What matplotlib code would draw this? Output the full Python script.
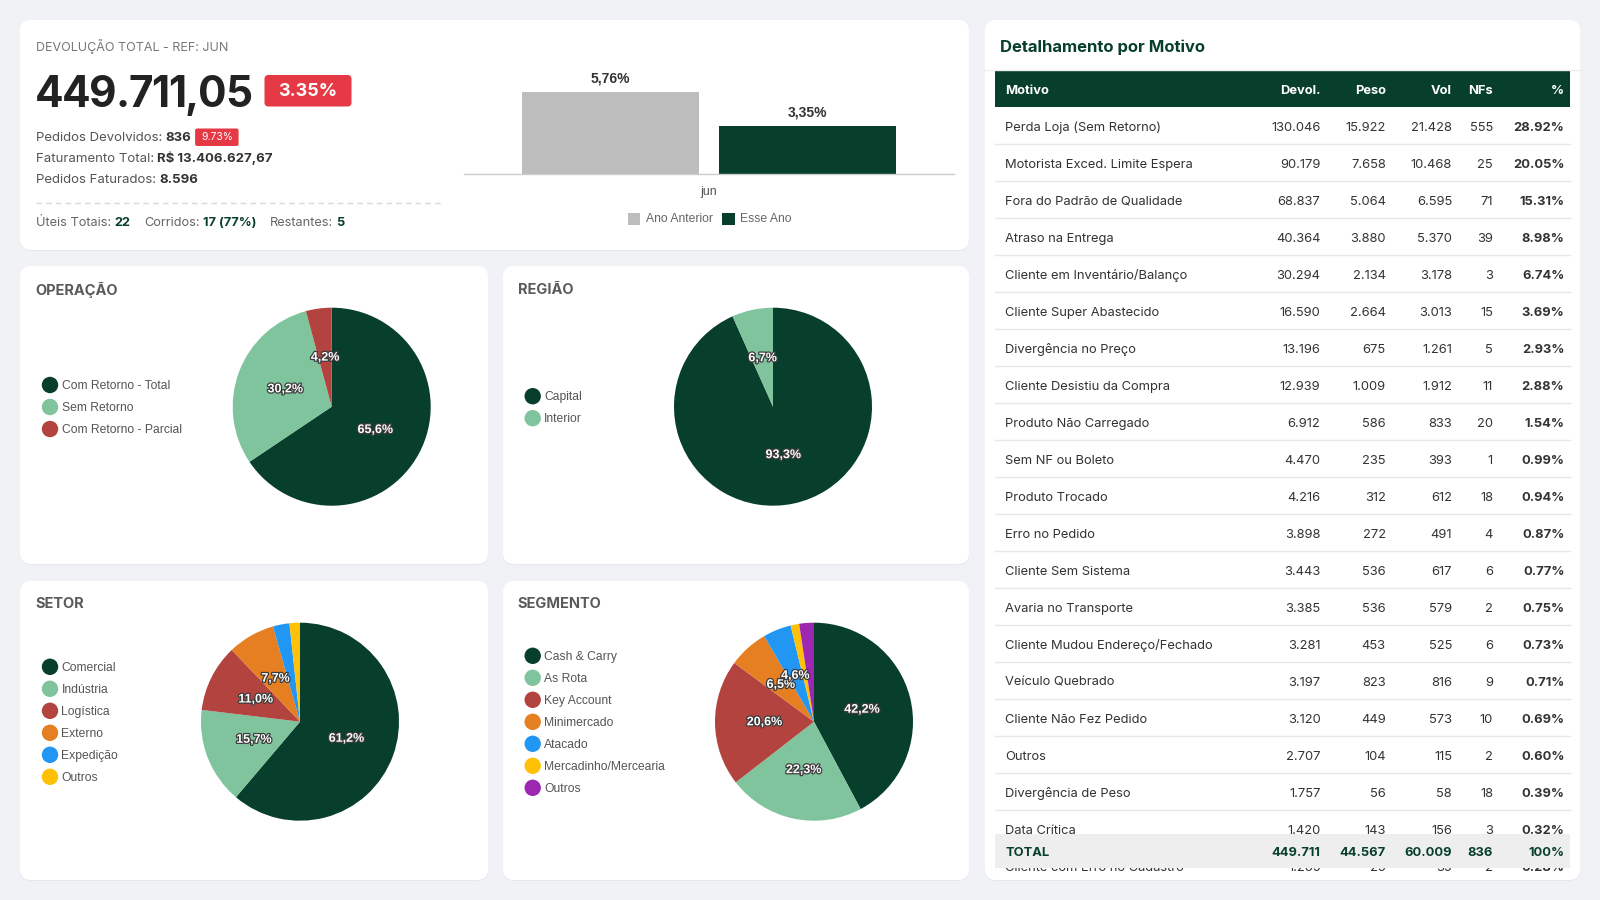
import numpy as np
import matplotlib
matplotlib.use('Agg')
import matplotlib.pyplot as plt
from matplotlib.patches import FancyBboxPatch, Rectangle, Circle
import matplotlib.patheffects as pe
from matplotlib.transforms import Bbox, TransformedBbox

# ------------------------------------------------------------------ data
ref_month = 'jun'
kpi_title = 'DEVOLUÇÃO TOTAL - REF: JUN'
total_devolucao = '449.711,05'
pct_devolucao = '3.35%'
pedidos_devolvidos = '836'
pct_pedidos = '9.73%'
faturamento_total = 'R$ 13.406.627,67'
pedidos_faturados = '8.596'
uteis_totais = '22'
corridos = '17 (77%)'
restantes = '5'

bar_series = ['Ano Anterior', 'Esse Ano']
bar_values = [5.76, 3.35]

op_labels = ['Com Retorno - Total', 'Sem Retorno', 'Com Retorno - Parcial']
op_values = [65.6, 30.2, 4.2]

reg_labels = ['Capital', 'Interior']
reg_values = [93.3, 6.7]

setor_labels = ['Comercial', 'Indústria', 'Logística', 'Externo', 'Expedição', 'Outros']
setor_values = [61.2, 15.7, 11.0, 7.7, 2.7, 1.7]

seg_labels = ['Cash & Carry', 'As Rota', 'Key Account', 'Minimercado', 'Atacado',
              'Mercadinho/Mercearia', 'Outros']
seg_values = [42.2, 22.3, 20.6, 6.5, 4.6, 1.4, 2.4]

table_columns = ['Motivo', 'Devol.', 'Peso', 'Vol', 'NFs', '%']
motivos = ['Perda Loja (Sem Retorno)', 'Motorista Exced. Limite Espera',
           'Fora do Padrão de Qualidade', 'Atraso na Entrega',
           'Cliente em Inventário/Balanço', 'Cliente Super Abastecido',
           'Divergência no Preço', 'Cliente Desistiu da Compra',
           'Produto Não Carregado', 'Sem NF ou Boleto', 'Produto Trocado',
           'Erro no Pedido', 'Cliente Sem Sistema', 'Avaria no Transporte',
           'Cliente Mudou Endereço/Fechado', 'Veículo Quebrado',
           'Cliente Não Fez Pedido', 'Outros', 'Divergência de Peso',
           'Data Crítica', 'Cliente com Erro no Cadastro']
devol = [130046, 90179, 68837, 40364, 30294, 16590, 13196, 12939, 6912, 4470,
         4216, 3898, 3443, 3385, 3281, 3197, 3120, 2707, 1757, 1420, 1265]
peso = [15922, 7658, 5064, 3880, 2134, 2664, 675, 1009, 586, 235,
        312, 272, 536, 536, 453, 823, 449, 104, 56, 143, 25]
vol = [21428, 10468, 6595, 5370, 3178, 3013, 1261, 1912, 833, 393,
       612, 491, 617, 579, 525, 816, 573, 115, 58, 156, 35]
nfs = [555, 25, 71, 39, 3, 15, 5, 11, 20, 1, 18, 4, 6, 2, 6, 9, 10, 2, 18, 3, 2]
pcts = [28.92, 20.05, 15.31, 8.98, 6.74, 3.69, 2.93, 2.88, 1.54, 0.99, 0.94,
        0.87, 0.77, 0.75, 0.73, 0.71, 0.69, 0.60, 0.39, 0.32, 0.28]
total_label = 'TOTAL'
total_devol = 449711
total_peso = 44567
total_vol = 60009
total_nfs = 836
total_pct = '100%'

# ------------------------------------------------------------------ style
BG = '#f0f2f5'
GREEN = '#083f2c'
LGREEN = '#80c49e'
RED = '#b2433f'
ORANGE = '#e67e22'
BLUE = '#2196f3'
YELLOW = '#ffc107'
PURPLE = '#9c27b0'
BADGE = '#e63946'
PIE_COLORS = [GREEN, LGREEN, RED, ORANGE, BLUE, YELLOW, PURPLE]
UI = 'Inter'
CH = 'Liberation Sans'

fig = plt.figure(figsize=(16, 9), dpi=100, facecolor=BG)
ax = fig.add_axes([0, 0, 1, 1])
ax.set_xlim(0, 1600)
ax.set_ylim(900, 0)
ax.axis('off')
renderer = fig.canvas.get_renderer()


def br(n):
    return f'{n:,}'.replace(',', '.')


def card(x0, y0, x1, y1):
    ax.add_patch(FancyBboxPatch((x0, y0 + 1), x1 - x0, y1 - y0,
                                boxstyle='round,pad=0,rounding_size=11',
                                fc='#e4e7ec', ec='none', zorder=0.5))
    ax.add_patch(FancyBboxPatch((x0, y0), x1 - x0, y1 - y0,
                                boxstyle='round,pad=0,rounding_size=11',
                                fc='white', ec='none', zorder=1))


def runs(x, y, parts, size, gap=3.6):
    for i, (s, color, weight) in enumerate(parts):
        t = ax.text(x, y, s, fontsize=size, color=color, fontweight=weight,
                    family=UI, ha='left', va='baseline', zorder=3)
        x += t.get_window_extent(renderer).width + gap
    return x - gap


def tracked(x, y, s, size, color, weight, track):
    for ch in s:
        t = ax.text(x, y, ch, fontsize=size, color=color, fontweight=weight,
                    family=UI, ha='left', va='baseline', zorder=3)
        x += t.get_window_extent(renderer).width + track
    return x


# ------------------------------------------------------------------ cards
card(20, 20, 969, 250)
card(20, 266, 488, 564)
card(503, 266, 969, 564)
card(20, 581, 488, 880)
card(503, 581, 969, 880)
card(985, 20, 1580, 880)

# ------------------------------------------------------------------ KPI card
ax.text(35.5, 46, kpi_title, fontsize=9, color='#777777', family=UI,
        ha='left', va='center', zorder=3)
tracked(35, 107, total_devolucao, 30.5, '#222222', 'bold', -1.4)
ax.add_patch(FancyBboxPatch((264.5, 75), 87, 31.5,
                            boxstyle='round,pad=0,rounding_size=4',
                            fc=BADGE, ec='none', zorder=2))
ax.text(308, 91.5, pct_devolucao, fontsize=13, color='white', family=UI,
        fontweight='bold', ha='center', va='center', zorder=3)

xe = runs(35.5, 141.3, [('Pedidos Devolvidos:', '#555555', 'normal'),
                        (pedidos_devolvidos, '#333333', 'bold')], 9.5)
ax.add_patch(FancyBboxPatch((xe + 4, 128.5), 43.5, 17.5,
                            boxstyle='round,pad=0,rounding_size=2',
                            fc=BADGE, ec='none', zorder=2))
ax.text(xe + 4 + 21.75, 137.5, pct_pedidos, fontsize=7.5, color='white',
        family=UI, ha='center', va='center', zorder=3)
runs(35.5, 162, [('Faturamento Total:', '#555555', 'normal'),
                 (faturamento_total, '#333333', 'bold')], 9.5)
runs(35.5, 183, [('Pedidos Faturados:', '#555555', 'normal'),
                 (pedidos_faturados, '#333333', 'bold')], 9.5)
ax.plot([35.5, 444], [203, 203], color='#d9d9d9', lw=1, ls=(0, (4, 3)), zorder=3)
runs(35.5, 226, [('Úteis Totais:', '#666666', 'normal'),
                 (uteis_totais, GREEN, 'bold')], 9.2)
runs(144, 226, [('Corridos:', '#666666', 'normal'),
                (corridos, GREEN, 'bold')], 9.2)
runs(270, 226, [('Restantes:', '#666666', 'normal'),
                (restantes, GREEN, 'bold')], 9.2, gap=3.0)

# ------------------------------------------------------------------ bar chart
bx0, bx1, by0, by1 = 464, 954, 60, 174
axb = fig.add_axes([bx0 / 1600, 1 - by1 / 900, (bx1 - bx0) / 1600, (by1 - by0) / 900])
axb.set_facecolor('none')
n = len(bar_values)
xs = np.arange(n) - (n - 1) / 2
bar_colors = ['#bdbdbd', GREEN]
axb.bar(xs, bar_values, width=0.9, color=bar_colors, zorder=2)
for x, v in zip(xs, bar_values):
    axb.annotate(f'{v:.2f}%'.replace('.', ','), (x, v), xytext=(0, 10),
                 textcoords='offset points', ha='center', va='center',
                 fontsize=10, fontweight='bold', color='#333333', family=CH)
axb.set_xlim(-1.245, 1.245)
axb.set_ylim(0, 8)
axb.set_yticks([])
axb.set_xticks([0])
axb.set_xticklabels([ref_month], fontsize=9, color='#555555', family=CH)
axb.tick_params(axis='x', length=0, pad=9)
for s in ['top', 'right', 'left']:
    axb.spines[s].set_visible(False)
axb.spines['bottom'].set_color('#cccccc')
axb.spines['bottom'].set_linewidth(1)

lx = [627.7, 722]
for i, (lab, c) in enumerate(zip(bar_series, bar_colors)):
    ax.add_patch(Rectangle((lx[i], 212.7), 12.5, 12.5, fc=c, ec='none', zorder=3))
    ax.text(lx[i] + 18, 219.2, lab, fontsize=8.7, color='#666666', family=CH,
            ha='left', va='center', zorder=3)


# ------------------------------------------------------------------ pies
def pie_card(title, tx, ty, labels, values, cx, cy, r, lgx, lgy0):
    ax.text(tx, ty, title, fontsize=10.5, fontweight='bold', color='#5a5a5a',
            family=UI, ha='left', va='center', zorder=3)
    axp = fig.add_axes([(cx - r) / 1600, 1 - (cy + r) / 900, 2 * r / 1600, 2 * r / 900])
    axp.set_facecolor('none')
    cols = PIE_COLORS[:len(values)]
    _, _, autotexts = axp.pie(values, colors=cols, startangle=90, counterclock=False,
                              radius=1, pctdistance=0.5,
                              autopct=lambda p: (f'{p:.1f}%'.replace('.', ',') if p >= 4 else ''),
                              wedgeprops=dict(linewidth=0),
                              textprops=dict(color='white', fontsize=9, fontweight='bold',
                                             family=CH))
    for t in autotexts:
        t.set_path_effects([pe.withStroke(linewidth=1.8, foreground='#3c3c3c')])
    axp.set_xlim(-1.01, 1.01)
    axp.set_ylim(-1.01, 1.01)
    axp.set_aspect('equal')
    axp.axis('off')
    for i, (lab, c) in enumerate(zip(labels, cols)):
        yy = lgy0 + 22 * i
        ax.add_patch(Circle((lgx, yy), 8.2, fc=c, ec='none', zorder=3))
        ax.text(lgx + 11.5, yy + 1, lab, fontsize=8.7, color='#555555', family=CH,
                ha='left', va='center', zorder=3)


pie_card('OPERAÇÃO', 35.5, 289.5, op_labels, op_values, 331.7, 406.7, 100, 50, 385)
pie_card('REGIÃO', 517.7, 289.5, reg_labels, reg_values, 773, 406.7, 100, 532.7, 396.2)
pie_card('SETOR', 35.5, 604.5, setor_labels, setor_values, 300, 721.7, 100, 50, 666.8)
pie_card('SEGMENTO', 517.7, 604.5, seg_labels, seg_values, 814, 721.7, 100, 532.7, 655.8)

# ------------------------------------------------------------------ table
ax.text(1000, 47, 'Detalhamento por Motivo', fontsize=12, fontweight='bold',
        color=GREEN, family=UI, ha='left', va='center', zorder=3)
ax.plot([985, 1580], [70, 70], color='#eeeeee', lw=1, zorder=3)
tx0, tx1 = 995, 1569.5
ax.add_patch(Rectangle((tx0, 70.7), tx1 - tx0, 36, fc=GREEN, ec='none', zorder=2))
col_x = [1005, 1320.5, 1385.7, 1452, 1493, 1564.3]
col_ha = ['left', 'right', 'right', 'right', 'right', 'right']
for c, x, ha in zip(table_columns, col_x, col_ha):
    ax.text(x, 91, c, fontsize=9.3, fontweight='bold', color='white', family=UI,
            ha=ha, va='center', zorder=3)

clip = TransformedBbox(Bbox([[tx0 - 5, 106.7], [tx1 + 5, 871]]), ax.transData)
row_h = 37
for i in range(len(motivos)):
    yc = 106.7 + row_h * i + row_h / 2 + 2.5
    vals = [motivos[i], br(devol[i]), br(peso[i]), br(vol[i]), str(nfs[i]),
            f'{pcts[i]:.2f}%']
    for j, (v, x, ha) in enumerate(zip(vals, col_x, col_ha)):
        t = ax.text(x, yc, v, fontsize=9.3, color='#333333', family=UI,
                    fontweight='bold' if j == 5 else 'normal',
                    ha=ha, va='center', zorder=2.2)
        t.set_clip_box(clip)
        t.set_clip_on(True)
    ysep = 106.7 + row_h * (i + 1)
    if ysep < 833:
        ax.plot([tx0, tx1], [ysep, ysep], color='#e8e8e8', lw=1, zorder=2.1)

ax.add_patch(Rectangle((tx0, 833.7), tx1 - tx0, 34.7, fc='#eeeeee', ec='none', zorder=2.5))
tot_vals = [total_label, br(total_devol), br(total_peso), br(total_vol),
            str(total_nfs), total_pct]
for v, x, ha in zip(tot_vals, col_x, col_ha):
    ax.text(x, 853, v, fontsize=9.3, fontweight='bold', color=GREEN, family=UI,
            ha=ha, va='center', zorder=3)

fig.savefig('out.png', dpi=100, facecolor=BG)
